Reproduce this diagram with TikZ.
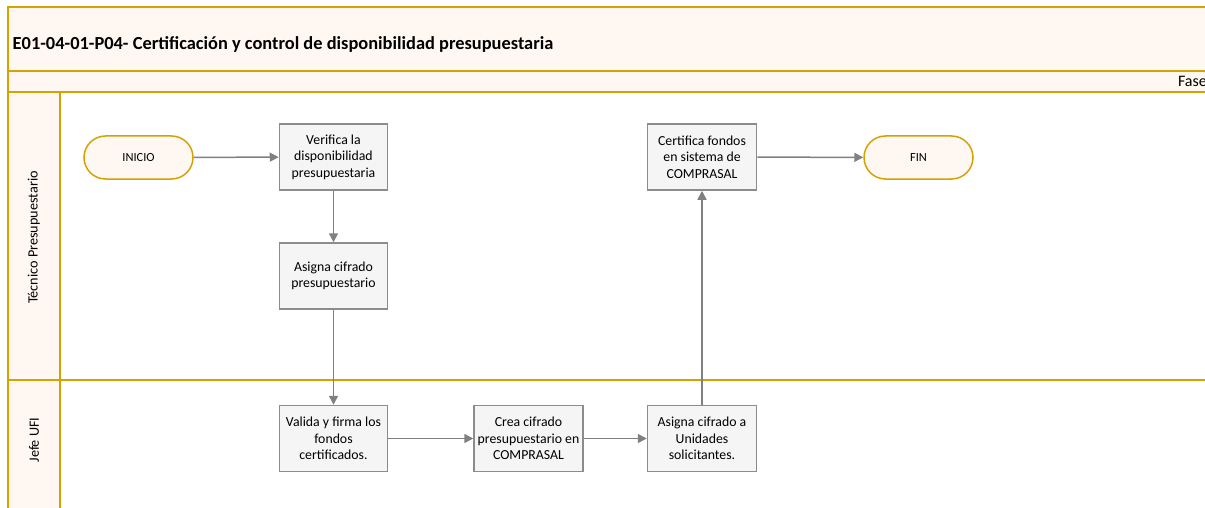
\documentclass[tikz,border=0pt]{standalone}
\usepackage{fontspec}
\setmainfont{Carlito}
\usetikzlibrary{arrows.meta}
\definecolor{gold}{RGB}{214,162,0}
\definecolor{cream}{RGB}{255,248,242}
\definecolor{boxfill}{RGB}{245,245,245}
\definecolor{boxline}{RGB}{140,140,140}
\definecolor{arrowc}{RGB}{128,128,128}
\begin{document}
\begin{tikzpicture}[x=1pt,y=-1pt,
 proc/.style={draw=boxline, line width=1.5pt, fill=boxfill, minimum width=108pt, minimum height=66pt, inner sep=1pt, align=center, font=\fontsize{13.8}{16.5}\selectfont},
 term/.style={draw=gold, line width=1.5pt, fill=cream, rounded corners=21.5pt, minimum width=109pt, minimum height=43pt, font=\fontsize{12.4}{14}\selectfont},
 flow/.style={draw=arrowc, line width=1.5pt, -{Triangle[length=9pt,width=9pt]}},
 lane/.style={draw=gold, line width=2pt},
 lanelabel/.style={rotate=90, font=\fontsize{14.2}{16}\selectfont}
]
\useasboundingbox (0,0) rectangle (1205,508);
\clip (0,0) rectangle (1205,508);
\fill[cream] (8,7) rectangle (1215,92);
\fill[cream] (8,92) rectangle (60,520);
\draw[lane] (1215,7) -- (8,7) -- (8,520);
\draw[lane] (8,71) -- (1215,71);
\draw[lane] (8,92) -- (1215,92);
\draw[lane] (60,92) -- (60,520);
\draw[lane] (8,380) -- (1215,380);

\node[anchor=west, font=\bfseries\fontsize{18.4}{22}\selectfont, inner sep=0pt] (title) at (12.5,44) {E01-04-01-P04- Certificación y control de disponibilidad presupuestaria};
\node[anchor=east, font=\fontsize{16}{18}\selectfont, inner sep=0pt] (fase) at (1207,81.5) {Fase};

\node[lanelabel] (l1) at (34,237.5) {Técnico Presupuestario};
\node[lanelabel] (l2) at (34,440) {Jefe UFI};

\node[term] (ini) at (138.5,157.5) {INICIO};
\node[proc] (ver) at (333.5,157) {Verifica la\\disponibilidad\\presupuestaria};
\node[proc] (asg) at (333.5,276) {Asigna cifrado\\presupuestario};
\node[proc] (val) at (333.5,438.5) {Valida y firma los\\fondos\\certificados.};
\node[proc, minimum width=109pt] (cre) at (528.5,438.5) {Crea cifrado\\presupuestario en\\COMPRASAL};
\node[proc, minimum width=109pt] (asu) at (702,438.5) {Asigna cifrado a\\Unidades\\solicitantes.};
\node[proc, minimum width=109pt] (cer) at (702,157) {Certifica fondos\\en sistema de\\COMPRASAL};
\node[term] (fin) at (918.5,157.5) {FIN};

\draw[flow] (ini) -- (ver);
\draw[flow] (ver) -- (asg);
\draw[flow] (asg) -- (val);
\draw[flow] (val) -- (cre);
\draw[flow] (cre) -- (asu);
\draw[flow] (asu) -- (cer);
\draw[flow] (cer) -- (fin);
\end{tikzpicture}
\end{document}
